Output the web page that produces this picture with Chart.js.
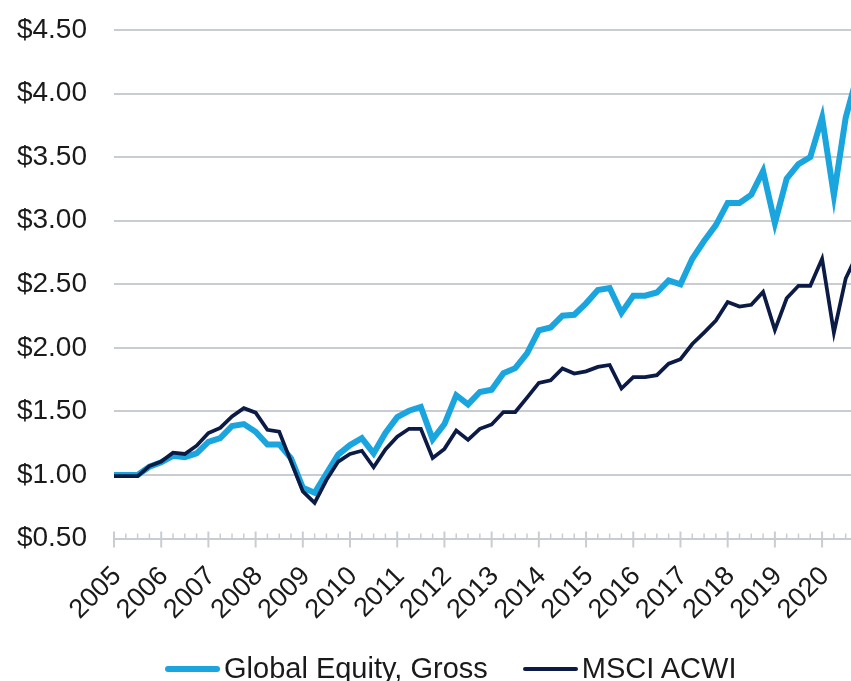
<!DOCTYPE html>
<html>
<head>
<meta charset="utf-8">
<script src="https://cdn.jsdelivr.net/npm/chart.js@4.4.1/dist/chart.umd.min.js"></script>
<style>
    html, body { margin: 0; padding: 0; background: #fff; }
    #wrap { position: relative; width: 851px; height: 681px; overflow: hidden; }
    #legend {
        position: absolute; left: 165px; top: 654px;
        display: flex; align-items: center;
        font-family: "Liberation Sans", Arial, sans-serif; font-size: 29px;
        line-height: 29px; color: #1a1a1a; white-space: nowrap;
    }
    .item { display: flex; align-items: center; margin-right: 35px; }
    .swatch { width: 55px; margin-right: 4px; border-radius: 3px; }
</style>
</head>
<body>
<div id="wrap">
    <canvas id="perfChart"></canvas>
    <div id="legend"></div>
</div>
<script>
// Year tick labels (one every 4 quarters)
const years = ['2005', '2006', '2007', '2008', '2009', '2010', '2011', '2012',
               '2013', '2014', '2015', '2016', '2017', '2018', '2019', '2020'];

// Growth of $1, quarterly, starting at the 2005 tick
const globalEquity = [
    1.00, 1.00, 1.00, 1.065, 1.10, 1.15, 1.14, 1.17,
    1.26, 1.29, 1.385, 1.40, 1.34, 1.24, 1.24, 1.13,
    0.90, 0.86, 1.01, 1.16, 1.235, 1.29, 1.17, 1.33,
    1.455, 1.505, 1.535, 1.28, 1.40, 1.627, 1.555, 1.653,
    1.67, 1.80, 1.84, 1.956, 2.138, 2.16, 2.253, 2.26,
    2.35, 2.455, 2.47, 2.275, 2.41, 2.41, 2.435, 2.53,
    2.50, 2.70, 2.84, 2.965, 3.14, 3.14, 3.205, 3.39,
    2.98, 3.33, 3.445, 3.50, 3.81, 3.20, 3.81, 4.15
];
const msciAcwi = [
    0.99, 0.99, 0.99, 1.07, 1.105, 1.175, 1.165, 1.23,
    1.33, 1.37, 1.46, 1.525, 1.49, 1.355, 1.34, 1.105,
    0.87, 0.78, 0.96, 1.105, 1.165, 1.19, 1.06, 1.20,
    1.30, 1.363, 1.363, 1.134, 1.205, 1.35, 1.276, 1.363,
    1.397, 1.495, 1.495, 1.608, 1.724, 1.745, 1.838, 1.798,
    1.815, 1.85, 1.865, 1.68, 1.77, 1.77, 1.785, 1.875,
    1.91, 2.03, 2.12, 2.214, 2.36, 2.325, 2.338, 2.44,
    2.14, 2.39, 2.488, 2.488, 2.70, 2.12, 2.545, 2.74
];

const FONT = '"Liberation Sans", Arial, sans-serif';
const GRID = '#c9cdd2';

function toPoints(values) {
    return values.map((v, i) => ({ x: i, y: v }));
}

// Quarter tick marks: long ones at each year, short ones in between
const quarterTicks = {
    id: 'quarterTicks',
    afterDraw(chart) {
        const { ctx, chartArea, scales } = chart;
        const y0 = scales.y.getPixelForValue(0.5);
        ctx.save();
        ctx.strokeStyle = GRID;
        for (let i = 0; i < globalEquity.length; i++) {
            const x = scales.x.getPixelForValue(i);
            if (x > chartArea.right + 1) break;
            const major = i % 4 === 0;
            ctx.lineWidth = major ? 2 : 1.5;
            ctx.beginPath();
            ctx.moveTo(x, major ? y0 - 7 : y0 - 5);
            ctx.lineTo(x, major ? y0 + 9 : y0);
            ctx.stroke();
        }
        ctx.restore();
    }
};

const chart = new Chart(document.getElementById('perfChart'), {
    type: 'line',
    data: {
        datasets: [{
            label: 'Global Equity, Gross',
            data: toPoints(globalEquity),
            borderColor: '#1ba5de',
            backgroundColor: '#1ba5de',
            borderWidth: 6,
            order: 2
        }, {
            label: 'MSCI ACWI',
            data: toPoints(msciAcwi),
            borderColor: '#0c1b46',
            backgroundColor: '#0c1b46',
            borderWidth: 3.75,
            order: 1
        }]
    },
    options: {
        responsive: true,
        maintainAspectRatio: false,
        animation: false,
        layout: { padding: { top: 30, left: 0, right: 0, bottom: 0 } },
        elements: { point: { radius: 0 }, line: { tension: 0 } },
        plugins: { legend: { display: false }, tooltip: { enabled: false } },
        scales: {
            x: {
                type: 'linear',
                min: 0,
                max: 62.45,
                grid: { display: false, drawTicks: false },
                border: { display: false },
                ticks: {
                    stepSize: 4,
                    includeBounds: false,
                    autoSkip: false,
                    maxRotation: 45,
                    minRotation: 45,
                    padding: 22,
                    labelOffset: 3,
                    color: '#1a1a1a',
                    font: { family: FONT, size: 27 },
                    callback: (v) => (v % 4 === 0 ? years[v / 4] : '')
                },
                afterFit(scale) {
                    scale.height = 142.5;
                    scale.paddingLeft = 0;
                    scale.paddingRight = 0;
                }
            },
            y: {
                min: 0.5,
                max: 4.5,
                grid: { color: GRID, lineWidth: 2, drawTicks: false },
                border: { display: false },
                ticks: {
                    stepSize: 0.5,
                    padding: 27,
                    color: '#1a1a1a',
                    font: { family: FONT, size: 28 },
                    callback: (v) => '$' + v.toFixed(2)
                },
                afterFit(scale) {
                    scale.width = 114;
                    scale.paddingTop = 0;
                    scale.paddingBottom = 0;
                }
            }
        }
    },
    plugins: [quarterTicks]
});

// Legend built from the datasets
const legend = document.getElementById('legend');
chart.data.datasets.forEach((ds) => {
    const item = document.createElement('div');
    item.className = 'item';
    const sw = document.createElement('span');
    sw.className = 'swatch';
    sw.style.height = (ds.borderWidth > 4 ? 6 : 4) + 'px';
    sw.style.background = ds.borderColor;
    const label = document.createElement('span');
    label.textContent = ds.label;
    item.appendChild(sw);
    item.appendChild(label);
    legend.appendChild(item);
});
</script>
</body>
</html>
